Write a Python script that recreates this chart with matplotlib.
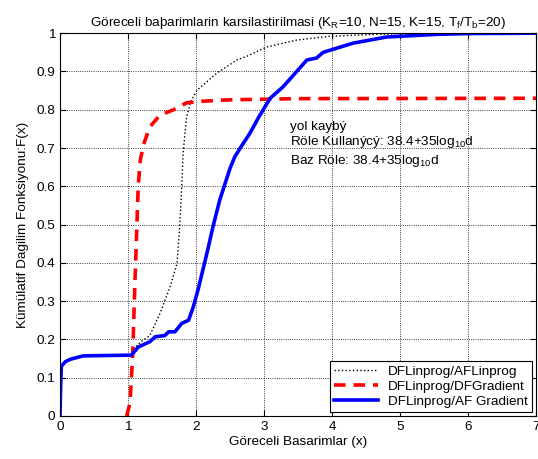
import numpy as np
import matplotlib
matplotlib.use("Agg")
import matplotlib.pyplot as plt

plt.rcParams['font.family'] = ['Liberation Sans', 'DejaVu Sans']
plt.rcParams['mathtext.fontset'] = 'custom'
plt.rcParams['mathtext.rm'] = 'Liberation Sans'
plt.rcParams['mathtext.it'] = 'Liberation Sans'

# DFLinprog/AFLinprog (dotted)
x_lp = [1.08, 1.2, 1.32, 1.47, 1.62, 1.72, 1.76, 1.79, 1.81, 1.86, 1.92, 2.01,
        2.3, 2.6, 2.75, 3.04, 3.48, 3.97, 4.5, 5.0, 6.0, 7.0]
f_lp = [0.175, 0.195, 0.21, 0.268, 0.338, 0.398, 0.494, 0.60, 0.686, 0.78, 0.82, 0.85,
        0.895, 0.93, 0.94, 0.964, 0.982, 0.992, 0.996, 0.999, 1.0, 1.0]

# DFLinprog/DFGradient (dashed red)
x_dg = [0.98, 1.03, 1.07, 1.10, 1.13, 1.15, 1.18, 1.23, 1.32, 1.47, 1.67, 1.86,
        2.06, 2.5, 3.5, 7.0]
f_dg = [0.0, 0.034, 0.165, 0.34, 0.494, 0.60, 0.668, 0.71, 0.755, 0.786, 0.80, 0.818,
        0.822, 0.826, 0.829, 0.83]

# DFLinprog/AF Gradient (solid blue)
x_ag = [0.0, 0.01, 0.02, 0.08, 0.15, 0.34, 1.05, 1.15, 1.32, 1.4, 1.54, 1.6, 1.69,
        1.79, 1.89, 1.96, 2.03, 2.16, 2.25, 2.35, 2.5, 2.57, 2.65, 2.79, 2.92, 3.09,
        3.28, 3.48, 3.63, 3.77, 3.87, 4.31, 4.8, 5.54, 6.0, 7.0]
f_ag = [0.0, 0.08, 0.13, 0.142, 0.148, 0.157, 0.159, 0.18, 0.194, 0.207, 0.21, 0.22, 0.22,
        0.242, 0.25, 0.285, 0.33, 0.425, 0.495, 0.565, 0.647, 0.677, 0.70, 0.738, 0.78, 0.83,
        0.86, 0.90, 0.93, 0.935, 0.95, 0.974, 0.99, 0.997, 0.999, 1.0]

fs = 9.7

fig = plt.figure(figsize=(5.38, 4.59), dpi=100)
ax = fig.add_axes([0.1115, 0.0937, 0.885, 0.834])

ax.plot(x_lp, f_lp, color='black', linestyle=':', linewidth=1.0, label='DFLinprog/AFLinprog')
ax.plot(x_dg, f_dg, color='red', linestyle=(0, (3.2, 2.2)), linewidth=2.6, label='DFLinprog/DFGradient')
ax.plot(x_ag, f_ag, color='blue', linestyle='-', linewidth=2.6, label='DFLinprog/AF Gradient')

ax.set_xlim(0, 7)
ax.set_ylim(0, 1)
ax.set_xticks(range(8))
yt = np.round(np.arange(0, 1.01, 0.1), 1)
ax.set_yticks(yt)
ax.set_yticklabels(['0'] + ['%.1f' % v for v in yt[1:-1]] + ['1'])
ax.grid(True, color='black', linestyle=':', linewidth=0.6)
ax.tick_params(direction='in', top=True, right=True, labelsize=fs, length=4)
for s in ax.spines.values():
    s.set_linewidth(0.8)

ax.set_title('Göreceli baþarimlarin karsilastirilmasi (K$_R$=10, N=15, K=15, T$_f$/T$_b$=20)',
             fontsize=fs, pad=5)
ax.set_xlabel('Göreceli Basarimlar (x)', fontsize=fs, labelpad=2)
ax.set_ylabel('Kümülatif Dagilim Fonksiyonu:F(x)', fontsize=fs, labelpad=5)

ax.text(3.38, 0.755, 'yol kayb\u00fd', fontsize=fs, va='center')
ax.text(3.38, 0.715, 'Röle Kullan\u00fdc\u00fd: 38.4+35log$_{10}$d', fontsize=fs, va='center')
ax.text(3.38, 0.666, 'Baz Röle: 38.4+35log$_{10}$d', fontsize=fs, va='center')

leg = ax.legend(loc='lower right', fontsize=fs, fancybox=False, framealpha=1,
                edgecolor='black', borderaxespad=0.3, handlelength=3.2,
                borderpad=0.3, labelspacing=0.2)
leg.get_frame().set_linewidth(0.8)

fig.savefig('out.png', dpi=100)
